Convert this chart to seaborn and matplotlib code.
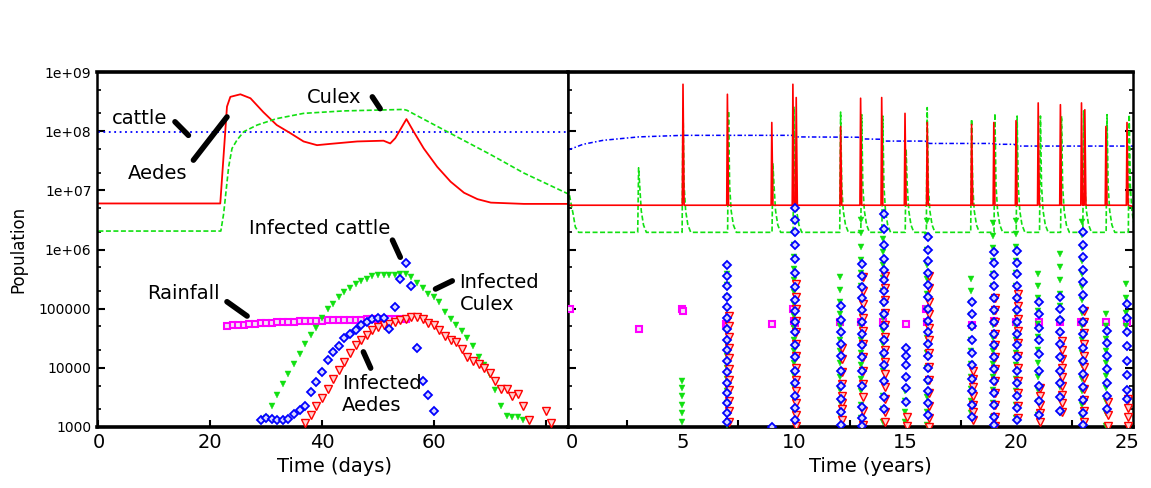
import numpy as np
import matplotlib
matplotlib.use("Agg")
import matplotlib.pyplot as plt
import matplotlib.ticker as mticker
import seaborn as sns

# -----------------------------------------------------
# DATA - left panel (one outbreak, days)
# -----------------------------------------------------

cattle_days = [0, 84]
cattle_pop = [9.5e7, 9.5e7]

aedes_days = [0, 21.8, 23.0, 23.6, 25.4, 27.2, 29.5, 31.9, 34.3, 36.7, 39.1, 41.5, 46.3,
              51.0, 52.2, 53.1, 55.1, 56.4, 58.2, 60.6, 63.0, 65.4, 67.8, 70.2, 76.1, 84]
aedes_pop = [6.0e6, 6.0e6, 2.6e8, 3.8e8, 4.2e8, 3.6e8, 2.1e8, 1.27e8, 9.3e7, 6.7e7, 5.8e7,
             6.1e7, 6.7e7, 6.9e7, 6.2e7, 7.6e7, 1.6e8, 9.8e7, 5.1e7, 2.5e7, 1.4e7, 9.1e6,
             7.1e6, 6.2e6, 5.9e6, 5.9e6]

culex_days = [0, 21.9, 22.4, 23.3, 23.9, 24.8, 26.0, 28.4, 31.9, 36.7, 43.9, 54.6, 55.2,
              62.4, 70.2, 76.1, 84.5]
culex_pop = [2.05e6, 2.05e6, 4.0e6, 2.5e7, 5.1e7, 7.1e7, 9.8e7, 1.27e8, 1.63e8, 2.0e8,
             2.2e8, 2.33e8, 2.25e8, 9.8e7, 4.0e7, 1.96e7, 8.3e6]

rain_days = list(range(23, 56))
rain_vals = [5.1e4, 5.2e4, 5.3e4, 5.4e4, 5.5e4, 5.6e4, 5.7e4, 5.75e4, 5.8e4, 5.9e4, 5.95e4,
             6.0e4, 6.05e4, 6.1e4, 6.15e4, 6.2e4, 6.25e4, 6.3e4, 6.35e4, 6.4e4, 6.4e4,
             6.45e4, 6.5e4, 6.5e4, 6.55e4, 6.6e4, 6.6e4, 6.6e4, 6.65e4, 6.7e4, 6.7e4,
             6.7e4, 6.7e4]

inf_cattle_days = list(range(29, 61))
inf_cattle = [1.31e3, 1.4e3, 1.36e3, 1.31e3, 1.31e3, 1.36e3, 1.64e3, 1.94e3, 2.3e3, 3.85e3,
              5.7e3, 8.4e3, 1.35e4, 1.82e4, 2.36e4, 3.15e4, 3.68e4, 4.4e4, 5.3e4, 6.0e4,
              6.67e4, 6.85e4, 6.85e4, 4.5e4, 1.05e5, 3.16e5, 5.8e5, 2.4e5, 2.2e4, 6.0e3,
              3.5e3, 1.9e3]

inf_culex_days = list(range(30, 77))
inf_culex = [1.4e3, 2.3e3, 3.5e3, 5.3e3, 7.9e3, 1.15e4, 1.7e4, 2.5e4, 3.6e4, 4.8e4,
             6.9e4, 9.7e4, 1.18e5, 1.6e5, 1.9e5, 2.2e5, 2.6e5, 2.9e5, 3.2e5, 3.5e5,
             3.7e5, 3.7e5, 3.7e5, 3.75e5, 3.8e5, 3.9e5, 3.45e5, 2.7e5, 2.2e5, 1.75e5,
             1.6e5, 1.3e5, 8.9e4, 6.8e4, 5.4e4, 4.2e4, 3.15e4, 2.35e4, 1.55e4, 1.1e4,
             7.6e3, 4.2e3, 2.3e3, 1.55e3, 1.45e3, 1.45e3, 1.3e3]

inf_aedes_days = list(range(37, 78)) + [80, 81]
inf_aedes = [1.15e3, 1.6e3, 2.3e3, 3.1e3, 4.4e3, 6.5e3, 9.2e3, 1.27e4, 1.8e4, 2.4e4,
             2.95e4, 3.6e4, 4.35e4, 4.95e4, 5.4e4, 5.6e4, 6.0e4, 6.4e4, 6.7e4, 7.2e4,
             7.3e4, 6.6e4, 5.8e4, 5.2e4, 4.35e4, 3.4e4, 2.95e4, 2.7e4, 2.1e4, 1.5e4,
             1.3e4, 1.15e4, 9.8e3, 8.1e3, 6.0e3, 4.4e3, 4.4e3, 3.4e3, 3.6e3, 2.3e3,
             1.3e3, 1.85e3, 1.15e3]

# -----------------------------------------------------
# DATA - right panel (25 years)
# -----------------------------------------------------

cattle_r_years = [-0.18, 0.5, 1.4, 3.0, 5.0, 9.9, 10.0, 12.9, 13.0, 13.9, 14.1, 15.9, 16.1,
                  18.9, 19.1, 19.9, 20.1, 25.3]
cattle_r_pop = [4.8e7, 6.0e7, 7.0e7, 8.0e7, 8.5e7, 8.5e7, 8.0e7, 7.9e7, 7.4e7, 7.3e7, 6.8e7,
                6.8e7, 6.2e7, 6.2e7, 6.0e7, 6.0e7, 5.6e7, 5.6e7]

aedes_base = 5.6e6
aedes_spike_years = [5.0, 7.0, 9.0, 9.95, 10.1, 12.1, 13.0, 13.95, 15.0, 16.0, 18.0, 19.0,
                     20.0, 21.0, 22.0, 22.95, 23.1, 24.05, 25.0]
aedes_spike_peak = [6.2e8, 4.2e8, 1.4e8, 6.2e8, 3.7e8, 1.2e8, 3.6e8, 3.7e8, 2.0e8, 1.4e8,
                    1.3e8, 1.4e8, 1.5e8, 3.0e8, 2.8e8, 3.0e8, 2.3e8, 1.2e8, 1.4e8]

culex_base = 1.95e6
culex_start_years = [-0.18, 0.05, 0.15, 0.3]
culex_start_pop = [1.1e7, 4.0e6, 2.4e6, 1.95e6]
culex_spike_years = [3.0, 5.0, 7.05, 9.05, 10.0, 12.1, 13.05, 14.0, 15.05, 16.0, 18.0, 19.05,
                     20.05, 21.1, 22.05, 23.05, 24.1, 25.1]
culex_spike_peak = [2.4e7, 2.6e8, 2.2e8, 2.8e7, 2.6e8, 2.1e8, 1.9e8, 1.8e8, 5.0e7, 2.5e8,
                    1.6e8, 2.0e8, 1.8e8, 1.8e8, 1.8e8, 2.2e8, 1.9e8, 1.9e8]
# decay after each culex peak (years after peak, population)
culex_tail_dt = [0.05, 0.12, 0.22, 0.35]
culex_tail_pop = [1.2e7, 4.5e6, 2.6e6, 1.95e6]

rain_r_years = [-0.1, 3.0, 4.95, 5.0, 6.95, 7.0, 9.0, 9.95, 10.0, 10.05, 12.05, 13.0, 14.0,
                15.05, 15.95, 16.0, 18.0, 19.0, 20.0, 21.05, 22.0, 22.95, 24.05, 25.0]
rain_r_vals = [1e5, 4.6e4, 1e5, 9e4, 5.5e4, 5e4, 5.6e4, 1e5, 6.3e4, 5.8e4, 6e4, 6e4, 6e4,
               5.6e4, 1e5, 6e4, 5.2e4, 6.2e4, 6e4, 6e4, 6e4, 6e4, 6e4, 6e4]

# outbreak columns of infected counts: year -> values
inf_cattle_cols = {
    7.0: [5.5e5, 3.6e5, 2.4e5, 1.6e5, 1.05e5, 7e4, 4.6e4, 3e4, 2e4, 1.3e4, 8.5e3, 5.6e3, 3.7e3, 2.5e3, 1.7e3, 1.2e3],
    9.0: [1.0e3],
    10.05: [5e6, 3.2e6, 2e6, 1.2e6, 7e5, 4e5, 2.3e5, 1.4e5, 9e4, 6e4, 4e4, 2.4e4, 1.5e4, 9e3, 5.5e3, 3.4e3, 2.1e3, 1.3e3],
    12.1: [1.1e5, 6.5e4, 4e4, 2.5e4, 1.6e4, 9e3, 5e3, 3e3, 1.8e3, 1.1e3],
    13.05: [5.6e5, 3.6e5, 2.3e5, 1.5e5, 9.5e4, 6e4, 3.8e4, 2.4e4, 1.5e4, 9e3, 5e3, 2.2e3, 1.4e3, 1.05e3],
    14.05: [4e6, 2.2e6, 1.2e6, 7e5, 4.5e5, 3e5, 2e5, 1.3e5, 8e4, 5e4, 3e4, 1.8e4, 1.1e4, 6e3, 3.2e3, 2e3],
    15.05: [2.2e4, 1.6e4, 1.1e4, 7e3, 4.5e3, 2.6e3],
    16.05: [1.6e6, 1e6, 6.3e5, 4e5, 2.5e5, 1.6e5, 1e5, 6.3e4, 4e4, 2.5e4, 1.6e4, 1e4, 6.3e3, 4e3, 2.5e3, 1.6e3],
    18.0: [1.3e5, 8e4, 5e4, 3e4, 1.8e4, 1.1e4, 6.5e3, 4e3, 2.4e3, 1.5e3],
    19.0: [9e5, 5.8e5, 3.7e5, 2.4e5, 1.5e5, 9.5e4, 6e4, 3.8e4, 2.4e4, 1.5e4, 9.5e3, 6e3, 3.8e3, 2.4e3, 1.5e3, 1.1e3],
    20.05: [9.6e5, 6e5, 3.8e5, 2.4e5, 1.5e5, 9.5e4, 6e4, 3.8e4, 2.4e4, 1.5e4, 9e3, 5.5e3, 3.4e3, 2.1e3, 1.3e3],
    21.05: [1.3e5, 8e4, 4.8e4, 2.9e4, 1.7e4, 9e3, 5e3, 2.8e3, 1.6e3],
    22.0: [1.55e5, 1e5, 6.5e4, 4e4, 2.5e4, 1.5e4, 9e3, 5.5e3, 3.2e3, 1.9e3],
    23.0: [2e6, 1.2e6, 7.5e5, 4.5e5, 2.8e5, 1.7e5, 1e5, 6e4, 3.7e4, 2.2e4, 1.3e4, 8e3, 4.8e3, 2.9e3, 1.7e3, 1.1e3],
    24.1: [4.2e4, 2.6e4, 1.6e4, 9.5e3, 5.5e3, 3.3e3, 2e3],
    25.0: [1.2e5, 7e4, 4e4, 2.3e4, 1.3e4, 7.5e3, 4.3e3, 3e3],
}
inf_culex_cols = {
    5.0: [6e3, 4.5e3, 3.3e3, 2.4e3, 1.7e3, 1.2e3],
    7.0: [3.9e5, 2.5e5, 1.6e5, 1e5, 6.4e4, 4e4, 2.5e4, 1.6e4, 1e4, 6.4e3, 4e3, 2.5e3, 1.6e3, 1.1e3],
    10.05: [3e6, 1.9e6, 1.2e6, 7.5e5, 4.7e5, 3e5, 1.9e5, 1.2e5, 7.5e4, 4.7e4, 3e4, 1.9e4, 1.2e4, 7.5e3, 4.7e3, 3e3, 1.9e3, 1.2e3],
    12.1: [3.4e5, 2.1e5, 1.3e5, 8e4, 5e4, 3e4, 1.9e4, 1.2e4, 7e3, 4.3e3, 2.6e3, 1.6e3],
    13.05: [3.2e6, 1.9e6, 1.1e6, 6.6e5, 4e5, 2.4e5, 1.4e5, 8.5e4, 5e4, 3e4, 1.8e4, 1.1e4, 6.5e3, 4e3, 2.4e3, 1.4e3],
    14.05: [1.5e6, 9e5, 5.5e5, 3.3e5, 2e5, 1.2e5, 7e4, 4.2e4, 2.5e4, 1.5e4, 9e3, 5.5e3, 3.3e3, 2e3, 1.2e3],
    15.05: [4e3, 2.7e3, 1.8e3, 1.2e3],
    16.05: [3e6, 1.7e6, 1e6, 5.5e5, 3.2e5, 1.8e5, 1e5, 5.7e4, 3.2e4, 1.8e4, 1e4, 5.7e3, 3.2e3, 1.8e3, 1.1e3],
    18.0: [3.2e5, 2e5, 1.25e5, 7.7e4, 4.8e4, 3e4, 1.9e4, 1.15e4, 7e3, 4.4e3, 2.7e3, 1.7e3],
    19.0: [2.8e6, 1.7e6, 1.05e6, 6.4e5, 3.9e5, 2.4e5, 1.45e5, 8.8e4, 5.3e4, 3.2e4, 1.9e4, 1.15e4, 7e3, 4.2e3, 2.5e3, 1.5e3],
    20.05: [3e6, 1.8e6, 1.1e6, 6.5e5, 4e5, 2.4e5, 1.4e5, 8.5e4, 5e4, 3e4, 1.8e4, 1.1e4, 6.5e3, 4e3, 2.4e3, 1.4e3],
    21.05: [3.9e5, 2.4e5, 1.5e5, 9e4, 5.5e4, 3.3e4, 2e4, 1.2e4, 7e3, 4.3e3, 2.6e3, 1.6e3],
    22.0: [8.5e5, 5e5, 3e5, 1.8e5, 1.1e5, 6.5e4, 3.9e4, 2.3e4, 1.4e4, 8e3, 4.8e3, 2.9e3, 1.7e3],
    23.0: [2.9e6, 1.75e6, 1.05e6, 6.3e5, 3.8e5, 2.3e5, 1.4e5, 8.4e4, 5e4, 3e4, 1.8e4, 1.1e4, 6.6e3, 4e3, 2.4e3, 1.45e3],
    24.1: [8e4, 5e4, 3.1e4, 1.9e4, 1.2e4, 7.3e3, 4.5e3, 2.8e3, 1.7e3, 1.05e3],
    25.0: [2.6e5, 1.5e5, 8.5e4, 5e4],
}
inf_aedes_cols = {
    7.0: [7.6e4, 5e4, 3.3e4, 2.2e4, 1.45e4, 9.5e3, 6.3e3, 4.2e3, 2.8e3, 1.85e3, 1.2e3],
    10.05: [2.6e5, 1.6e5, 1e5, 6.3e4, 4e4, 2.5e4, 1.6e4, 1e4, 6.3e3, 4e3, 2.5e3, 1.6e3, 1.05e3],
    12.1: [2.2e4, 1.4e4, 8.5e3, 5.3e3, 3.3e3, 2.5e3, 2e3, 1.3e3],
    13.05: [3.4e5, 2e5, 1.2e5, 7e4, 4.2e4, 2.5e4, 1.5e4, 9e3, 5.3e3, 3.2e3, 1.9e3, 1.1e3],
    14.05: [3.5e5, 2.2e5, 1.4e5, 8.5e4, 5.3e4, 3.3e4, 2e4, 1.25e4, 7.8e3, 4.8e3, 3e3, 1.8e3, 1.2e3],
    15.05: [1.5e3, 1.05e3],
    16.05: [3.6e5, 2.2e5, 1.3e5, 8e4, 4.8e4, 2.9e4, 1.75e4, 1.05e4, 6.3e3, 3.8e3, 2.3e3, 1.4e3, 1e3],
    18.0: [9e3, 6.5e3, 4.7e3, 3.4e3, 2.4e3, 1.8e3, 1.3e3],
    19.0: [1.5e5, 9.5e4, 6e4, 3.8e4, 2.4e4, 1.5e4, 9.5e3, 6e3, 3.8e3, 2.4e3, 1.5e3, 1.05e3],
    20.05: [1.8e5, 1.1e5, 6.8e4, 4.2e4, 2.6e4, 1.6e4, 9.8e3, 6e3, 3.7e3, 2.3e3, 1.4e3],
    21.05: [4.6e3, 3.3e3, 2.4e3, 1.7e3, 1.2e3],
    22.0: [2.8e4, 2e4, 1.4e4, 1e4, 7e3, 5e3, 3.5e3, 2.5e3, 1.8e3],
    23.0: [9.2e4, 6e4, 3.9e4, 2.5e4, 1.6e4, 1.05e4, 6.8e3, 4.4e3, 2.9e3, 1.9e3, 1.2e3],
    24.1: [2.6e3, 1.6e3, 1.05e3],
    25.0: [3e3, 2.1e3, 1.5e3, 1.05e3],
}

ytick_vals = [1e3, 1e4, 1e5, 1e6, 1e7, 1e8, 1e9]
ytick_labels = ["1000", "10000", "100000", "1e+06", "1e+07", "1e+08", "1e+09"]

# label text, text position, pointer start, pointer end (left panel data coords)
labels = [
    ("cattle", (7.3, 1.66e8), (13.7, 1.44e8), (16.1, 8.5e7), "center"),
    ("Culex", (42.2, 3.75e8), (49.0, 3.8e8), (50.4, 2.4e8), "center"),
    ("Aedes", (10.5, 1.95e7), (17.0, 3.24e7), (23.0, 1.74e8), "center"),
    ("Infected cattle", (39.5, 2.3e6), (52.6, 1.44e6), (54.0, 7.4e5), "center"),
    ("Rainfall", (15.3, 1.8e5), (23.0, 1.31e5), (26.6, 7.5e4), "center"),
    ("Infected\nCulex", (64.6, 1.8e5), (60.3, 2.15e5), (63.3, 2.95e5), "left"),
    ("Infected\nAedes", (43.6, 3.5e3), (47.4, 1.86e4), (48.7, 9.9e3), "left"),
]

# -----------------------------------------------------
# STYLE
# -----------------------------------------------------

sns.set_style("white")
plt.rcParams['font.family'] = ['DejaVu Sans']
for key in ("text.color", "axes.labelcolor", "xtick.color", "ytick.color", "axes.edgecolor"):
    plt.rcParams[key] = "black"

RED = "#ff0000"
GREEN = "#11e011"
BLUE = "#0000ff"
MAGENTA = "#ff00ff"

fig = plt.figure(figsize=(11.51, 4.88), dpi=100)
ax1 = fig.add_axes([97 / 1151, 1 - 427 / 488, 471 / 1151, 355 / 488])
ax2 = fig.add_axes([568 / 1151, 1 - 427 / 488, 565 / 1151, 355 / 488])

for ax in (ax1, ax2):
    ax.set_yscale("log")


def markers(ax, x, y, marker, color, face, size, mew, z):
    sns.lineplot(x=x, y=y, ax=ax, estimator=None, sort=False, linestyle="",
                 marker=marker, color=color, markerfacecolor=face,
                 markeredgecolor=color, markersize=size, markeredgewidth=mew, zorder=z)


def columns(ax, cols, dx, marker, color, face, size, mew, z):
    xs, ys = [], []
    for yr, vals in cols.items():
        xs += [yr + dx] * len(vals)
        ys += vals
    markers(ax, xs, ys, marker, color, face, size, mew, z)


# -----------------------------------------------------
# LEFT PANEL
# -----------------------------------------------------

sns.lineplot(x=cattle_days, y=cattle_pop, ax=ax1, estimator=None, sort=False,
             color=BLUE, linestyle=(0, (1, 2)), linewidth=1.3)
sns.lineplot(x=aedes_days, y=aedes_pop, ax=ax1, estimator=None, sort=False,
             color=RED, linewidth=1.3)
sns.lineplot(x=culex_days, y=culex_pop, ax=ax1, estimator=None, sort=False,
             color=GREEN, linestyle=(0, (3, 1.5)), linewidth=1.2)

markers(ax1, rain_days, rain_vals, "s", MAGENTA, "#f4e0f4", 4.3, 1.5, 3)
markers(ax1, inf_culex_days, inf_culex, "v", GREEN, GREEN, 4.2, 0.3, 4)
markers(ax1, inf_aedes_days, inf_aedes, "v", RED, "#ffd0d0", 5.4, 1.0, 4)
markers(ax1, inf_cattle_days, inf_cattle, "D", BLUE, "#d8d8ff", 4.0, 1.3, 5)

for txt, tpos, p0, p1, ha in labels:
    ax1.text(tpos[0], tpos[1], txt, fontsize=14, ha=ha, va="center", zorder=6)
    ax1.annotate("", xy=p1, xytext=p0,
                 arrowprops=dict(arrowstyle="-", color="black", lw=4,
                                 shrinkA=0, shrinkB=0, capstyle="round"), zorder=6)

ax1.set_xlim(-0.25, 84)
ax1.set_xticks([0, 20, 40, 60, 80])
ax1.set_xticklabels(["0", "20", "40", "60", ""])
ax1.set_xlabel("Time (days)", fontsize=14)
ax1.set_ylabel("Population", fontsize=12, labelpad=8)

# -----------------------------------------------------
# RIGHT PANEL
# -----------------------------------------------------

aedes_x, aedes_y = [-0.18], [aedes_base]
for t, p in zip(aedes_spike_years, aedes_spike_peak):
    aedes_x += [t - 0.03, t, t + 0.05]
    aedes_y += [aedes_base, p, aedes_base]
aedes_x.append(25.3)
aedes_y.append(aedes_base * 0.95)

culex_x, culex_y = list(culex_start_years), list(culex_start_pop)
for t, p in zip(culex_spike_years, culex_spike_peak):
    culex_x += [t - 0.04, t] + [t + d for d in culex_tail_dt]
    culex_y += [culex_base, p] + culex_tail_pop
culex_x.append(25.3)
culex_y.append(culex_base)

sns.lineplot(x=cattle_r_years, y=cattle_r_pop, ax=ax2, estimator=None, sort=False,
             color=BLUE, linestyle=(0, (3, 1.5, 1, 1.5)), linewidth=1.1)
sns.lineplot(x=culex_x, y=culex_y, ax=ax2, estimator=None, sort=False,
             color=GREEN, linestyle=(0, (3, 1.5)), linewidth=1.2)
sns.lineplot(x=aedes_x, y=aedes_y, ax=ax2, estimator=None, sort=False,
             color=RED, linewidth=1.2)

markers(ax2, rain_r_years, rain_r_vals, "s", MAGENTA, "#f4e0f4", 4.3, 1.5, 3)
columns(ax2, inf_culex_cols, -0.04, "v", GREEN, GREEN, 4.2, 0.3, 4)
columns(ax2, inf_aedes_cols, 0.05, "v", RED, "#ffd0d0", 5.4, 1.0, 4)
columns(ax2, inf_cattle_cols, 0.0, "D", BLUE, "#d8d8ff", 4.0, 1.3, 5)

ax2.set_xlim(-0.18, 25.27)
ax2.set_xticks([0, 5, 10, 15, 20, 25])
ax2.set_xticks([2.5, 7.5, 12.5, 17.5, 22.5], minor=True)
ax2.set_xlabel("Time (years)", fontsize=14)
ax2.set_ylabel("")

# -----------------------------------------------------
# AXES / TICKS
# -----------------------------------------------------

for ax in (ax1, ax2):
    ax.set_ylim(1e3, 1e9)
    ax.set_yticks(ytick_vals)
    ax.yaxis.set_minor_locator(mticker.FixedLocator(
        [m * 10.0 ** e for e in range(3, 9) for m in (2, 5)]))
    ax.yaxis.set_minor_formatter(mticker.NullFormatter())
    for side, sp in ax.spines.items():
        sp.set_visible(True)
        sp.set_color("black")
        sp.set_linewidth(2.6 if side in ("top", "bottom") else 1.8)
    ax.tick_params(axis="both", which="both", direction="in", color="black")
    ax.tick_params(axis="x", which="major", labelsize=14, pad=4)
    ax.tick_params(axis="y", which="major", length=6, width=1.5)
    ax.tick_params(axis="y", which="minor", length=3, width=1.2)

ax1.set_yticklabels(ytick_labels, fontsize=10)
ax1.xaxis.set_label_coords(0.505, -0.085)
ax2.xaxis.set_label_coords(0.535, -0.085)
ax1.tick_params(axis="x", which="major", length=5, width=1.5, bottom=True, top=False)
ax1.tick_params(axis="y", which="both", left=True, right=False, pad=4)

ax2.tick_params(axis="x", which="major", length=0, bottom=True)
ax2.tick_params(axis="x", which="minor", length=5, width=1.5, bottom=True, top=False)
ax2.tick_params(axis="y", which="both", left=True, right=True, labelleft=False)

fig.savefig("out.png", dpi=100)
print("[OK] Saved: out.png")
